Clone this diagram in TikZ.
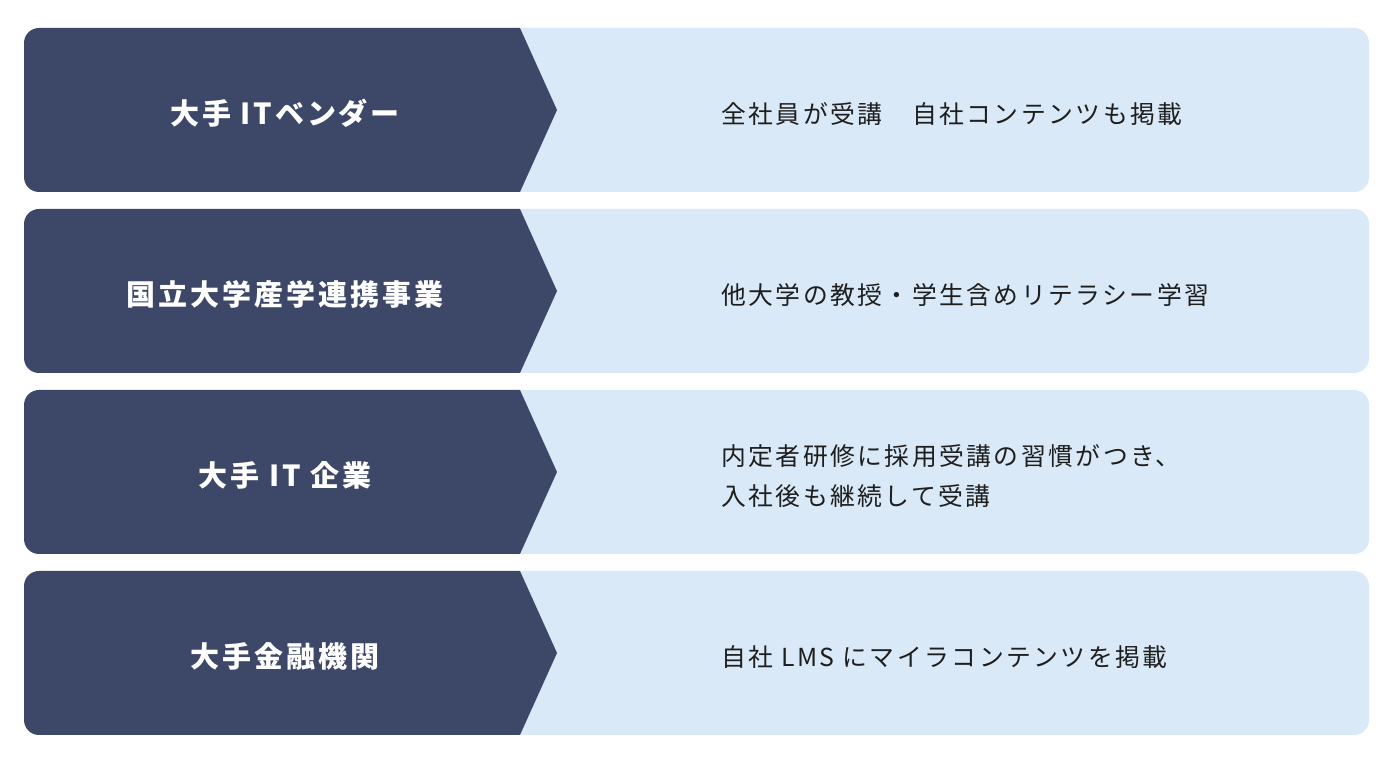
\documentclass[tikz,border=0pt]{standalone}
\usepackage{fontspec}
\newfontfamily\jp{Noto Sans CJK JP}[LetterSpace=10]
\definecolor{navy}{HTML}{3D4868}
\definecolor{paleblue}{HTML}{D9E9F7}
\definecolor{ink}{HTML}{1E1E1E}
\begin{document}
\begin{tikzpicture}[x=1pt,y=1pt,
  lefttext/.style={text=white,font=\jp\bfseries\fontsize{29}{34}\selectfont,inner sep=0pt,anchor=center},
  righttext/.style={text=ink,font=\jp\fontsize{24.8}{40}\selectfont,inner sep=0pt,anchor=west,align=left}]
\useasboundingbox (0,0) rectangle (1394,757);
\fill[white] (0,0) rectangle (1394,757);
\foreach \T/\i in {729/1,548/2,367/3,186/4}{
  \pgfmathsetmacro{\B}{\T-164}
  \pgfmathsetmacro{\M}{\T-82}
  \fill[paleblue,rounded corners=15pt] (500,\B) rectangle (1369,\T);
  \fill[navy] (39,\T) -- (520,\T) -- (557,\M) -- (520,\B) -- (39,\B)
    arc[start angle=-90,end angle=-180,radius=15] -- (24,\T-15)
    arc[start angle=180,end angle=90,radius=15] -- cycle;
  \coordinate (L\i) at (285,\M-3);
  \coordinate (R\i) at (721,\M-4);
}
\node[lefttext] (l1) at (L1) {大手 ITベンダー};
\node[lefttext] (l2) at (L2) {国立大学産学連携事業};
\node[lefttext] (l3) at (L3) {大手 IT 企業};
\node[lefttext] (l4) at (L4) {大手金融機関};
\node[righttext] (r1) at (R1) {全社員が受講　自社コンテンツも掲載};
\node[righttext] (r2) at (R2) {他大学の教授・学生含めリテラシー学習};
\node[righttext] (r3) at (R3) {内定者研修に採用受講の習慣がつき、\\入社後も継続して受講};
\node[righttext] (r4) at (R4) {自社 LMS にマイラコンテンツを掲載};
\end{tikzpicture}
\end{document}
